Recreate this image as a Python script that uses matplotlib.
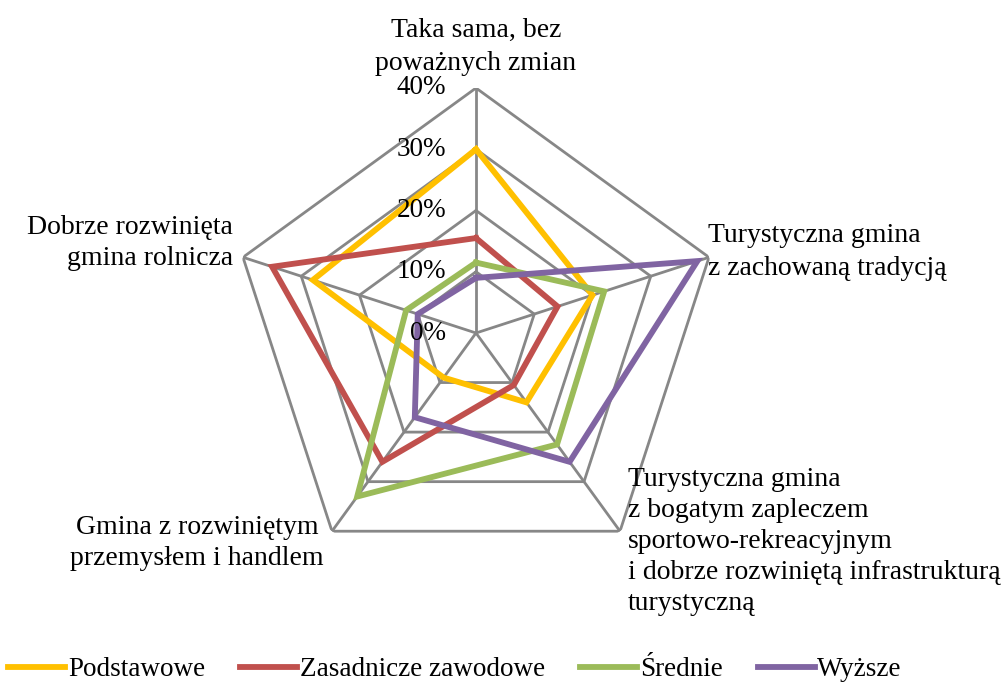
import numpy as np
import matplotlib
matplotlib.use('Agg')
import matplotlib.pyplot as plt

categories = [
    'Taka sama, bez\npoważnych zmian',
    'Turystyczna gmina\nz zachowaną tradycją',
    'Turystyczna gmina\nz bogatym zapleczem\nsportowo-rekreacyjnym\ni dobrze rozwiniętą infrastrukturą\nturystyczną',
    'Gmina z rozwiniętym\nprzemysłem i handlem',
    'Dobrze rozwinięta\ngmina rolnicza',
]
series_names = ['Podstawowe', 'Zasadnicze zawodowe', 'Średnie', 'Wyższe']
podstawowe = [30, 20, 14, 9, 28]
zasadnicze = [15.5, 14, 10.5, 26, 35]
srednie = [11.5, 22, 22.5, 33, 12]
wyzsze = [9, 38, 26, 17, 10]
ticks = [0, 10, 20, 30, 40]
tick_labels = ['0%', '10%', '20%', '30%', '40%']

colors = ['#FFC000', '#C0504D', '#9BBB59', '#8064A2']
grid_color = '#878787'

plt.rcParams['font.family'] = ['Liberation Serif', 'DejaVu Serif']

fig = plt.figure(figsize=(10.04, 6.84), dpi=100)
ax = fig.add_axes([231 / 1004, 106 / 684, 490 / 1004, 490 / 684], projection='polar')
ax.set_theta_offset(np.pi / 2)
ax.set_theta_direction(-1)
ax.set_ylim(0, 40)
ax.grid(False)
ax.spines['polar'].set_visible(False)
ax.set_xticks([])
ax.set_yticks([])
ax.patch.set_alpha(0)

n = len(categories)
angles = np.arange(n) * 2 * np.pi / n
closed = np.append(angles, angles[0])

# pentagon grid and spokes
for t in ticks[1:]:
    ax.plot(closed, [t] * (n + 1), color=grid_color, lw=2, zorder=1)
for a in angles:
    ax.plot([a, a], [0, 40], color=grid_color, lw=2, zorder=1)

for name, vals, c in zip(series_names, [podstawowe, zasadnicze, srednie, wyzsze], colors):
    ax.plot(closed, vals + vals[:1], color=c, lw=4.2, label=name, zorder=3,
            solid_joinstyle='miter')

for t, lab in zip(ticks, tick_labels):
    ax.annotate(lab, xy=(0, t), xytext=(-30, 0), textcoords='offset pixels',
                ha='right', va='center', fontsize=19.5, zorder=4)

# category labels: anchor = last line baseline, in figure pixels
label_pos = [
    (476, 70, 'center', 1.42),
    (708, 275, 'left', 1.42),
    (628, 610, 'left', 1.31),
    (197, 565, 'center', 1.33),
    (233, 265, 'right', 1.33),
]
for text, (x, y, ha, ls) in zip(categories, label_pos):
    fig.text(x / 1004, 1 - y / 684, text, ha=ha, va='baseline', fontsize=20,
             linespacing=ls, multialignment=ha)

fig.legend(loc='center', bbox_to_anchor=(455 / 1004, 14 / 684), ncol=4,
           frameon=False, fontsize=19.5, handlelength=2.1, handletextpad=0.1,
           columnspacing=1.3, borderpad=0)

fig.savefig('out.png', dpi=100)
